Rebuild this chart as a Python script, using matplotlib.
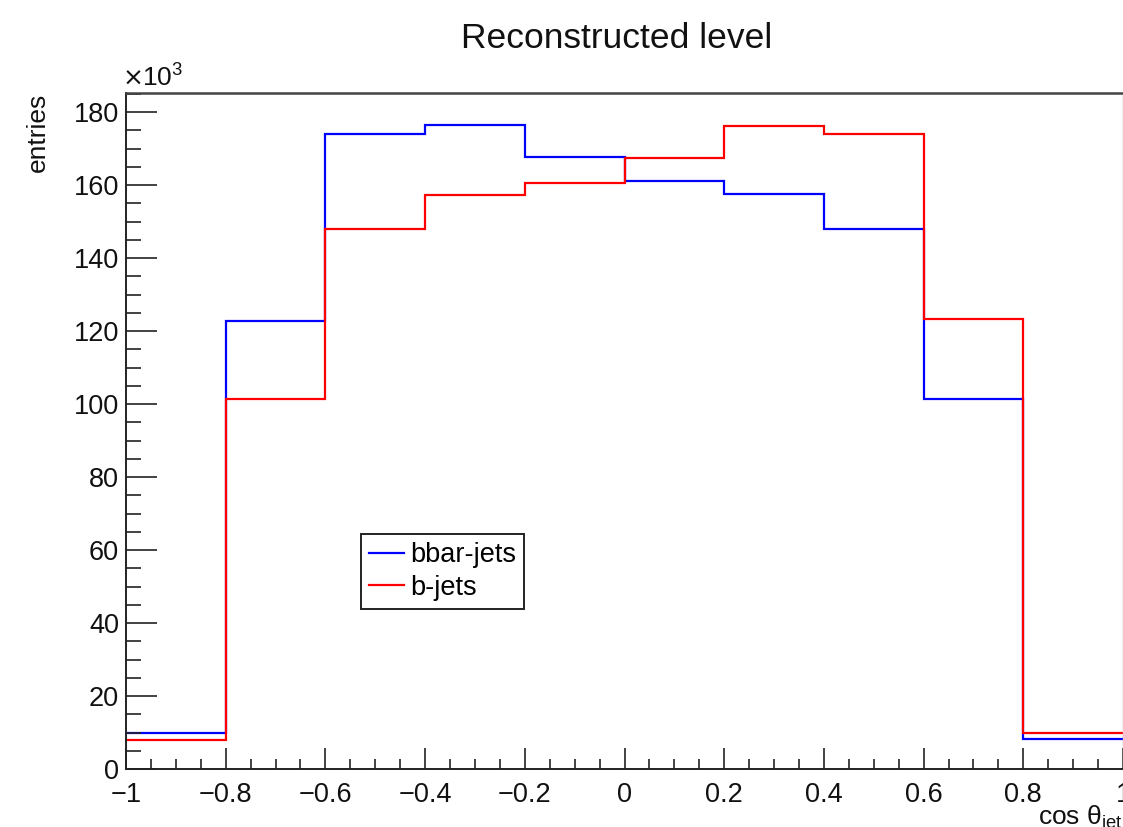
import numpy as np
import matplotlib.pyplot as plt
from matplotlib.ticker import MultipleLocator, FuncFormatter

plt.rcParams['font.family'] = ['Liberation Sans', 'DejaVu Sans']
plt.rcParams['mathtext.fontset'] = 'custom'
plt.rcParams['mathtext.rm'] = 'Liberation Sans'

# bin edges of cos(theta_jet), 10 bins
bin_lo = -1.0
bin_hi = 1.0
n_bins = 10

# entries per bin, in units of 10^3
bbar_jets = [9.9, 122.7, 174.0, 176.4, 167.6, 161.2, 157.5, 148.0, 101.4, 8.1]
b_jets = [8.0, 101.4, 148.0, 157.3, 160.6, 167.4, 176.1, 173.9, 123.3, 9.9]

edges = np.linspace(bin_lo, bin_hi, n_bins + 1)

fig = plt.figure(figsize=(11.23, 8.27), dpi=100)
ax = fig.add_axes([126 / 1123, 58 / 827, 997 / 1123, 676.5 / 827])

ax.stairs(bbar_jets, edges, baseline=None, color='#0000ff', lw=1.6, label='bbar-jets')
ax.stairs(b_jets, edges, baseline=None, color='#ff0000', lw=1.6, label='b-jets')

ax.set_xlim(-1, 1)
ax.set_ylim(0, 185.4)

# ROOT-like ticks
ax.xaxis.set_major_locator(MultipleLocator(0.2))
ax.xaxis.set_minor_locator(MultipleLocator(0.05))
ax.yaxis.set_major_locator(MultipleLocator(20))
ax.yaxis.set_minor_locator(MultipleLocator(5))
fmt = FuncFormatter(lambda v, p: f'{v:g}'.replace('-', '\u2212') if abs(v) > 1e-9 else '0')
ax.xaxis.set_major_formatter(fmt)
ax.yaxis.set_major_formatter(FuncFormatter(lambda v, p: f'{v:g}'))
ax.tick_params(axis='both', which='both', direction='in', top=False, right=False,
               labelsize=19.5, width=1.2, color='#222222', labelcolor='#111111')
ax.tick_params(axis='x', which='major', length=15, pad=9)
ax.tick_params(axis='x', which='minor', length=7.5)
ax.tick_params(axis='y', which='major', length=22, pad=5)
ax.tick_params(axis='y', which='minor', length=11)

for s in ['left', 'bottom']:
    ax.spines[s].set_linewidth(1.4)
    ax.spines[s].set_color('#222222')
ax.spines['top'].set_linewidth(1.8)
ax.spines['top'].set_color('#444444')
ax.spines['right'].set_linewidth(1.0)
ax.spines['right'].set_color('#bbbbbb')

# titles
fig.text(617 / 1123, 1 - 38 / 827, 'Reconstructed level', ha='center', va='center',
         fontsize=25.5, color='#111111')
ax.text(-0.088, 1.0, 'entries', transform=ax.transAxes, rotation=90,
        ha='center', va='top', fontsize=19, color='#111111')
ax.text(1.0, -0.05, 'cos \u03b8$_{\\mathrm{jet}}$', transform=ax.transAxes,
        ha='right', va='top', fontsize=19, color='#111111')
ax.text(-0.003, 1.003, '\u00d7', transform=ax.transAxes, family='DejaVu Sans',
        ha='left', va='bottom', fontsize=18, color='#111111')
ax.text(0.016, 1.003, '10$^{3}$', transform=ax.transAxes,
        ha='left', va='bottom', fontsize=19, color='#111111')

leg = ax.legend(loc='lower left', bbox_to_anchor=(0.2357, 0.2364), borderaxespad=0,
                fancybox=False, edgecolor='#222222', framealpha=1, fontsize=19.5,
                handlelength=1.3, handletextpad=0.2, borderpad=0.3, labelspacing=0.25)
leg.get_frame().set_linewidth(1.4)

fig.savefig('out.png', dpi=100)
